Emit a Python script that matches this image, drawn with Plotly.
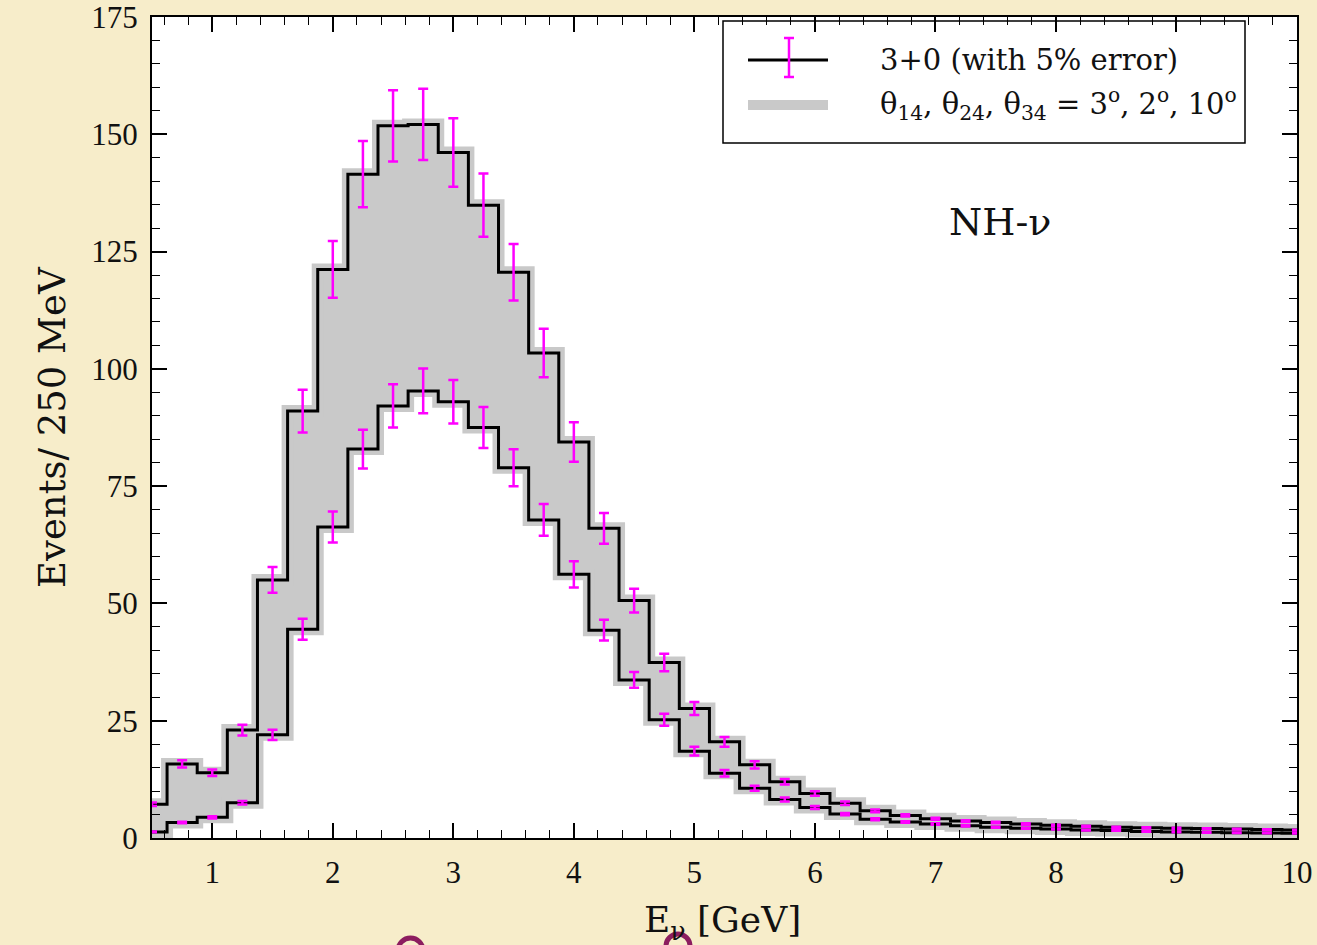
import plotly.graph_objects as go

# ---------------- data ----------------
energy = [0.5, 0.75, 1.0, 1.25, 1.5, 1.75, 2.0, 2.25, 2.5, 2.75, 3.0, 3.25, 3.5, 3.75,
          4.0, 4.25, 4.5, 4.75, 5.0, 5.25, 5.5, 5.75, 6.0, 6.25, 6.5, 6.75, 7.0, 7.25,
          7.5, 7.75, 8.0, 8.25, 8.5, 8.75, 9.0, 9.25, 9.5, 9.75, 10.0]

upper_events = [7.2, 15.8, 13.9, 23.0, 55.0, 91.0, 121.2, 141.5, 151.8, 152.1, 146.1, 134.9,
                120.6, 103.4, 84.4, 66.0, 50.6, 37.4, 27.6, 20.5, 15.6, 12.0, 9.5, 7.4, 5.8,
                4.8, 4.1, 3.6, 3.3, 3.0, 2.7, 2.5, 2.3, 2.2, 2.1, 2.0, 1.9, 1.8, 1.7]

lower_events = [1.3, 3.3, 4.4, 7.5, 22.0, 44.5, 66.3, 82.9, 92.1, 95.3, 93.0, 87.5, 78.9,
                67.8, 56.2, 44.3, 33.7, 25.2, 18.5, 13.8, 10.6, 8.2, 6.5, 5.1, 4.0, 3.4,
                3.0, 2.6, 2.3, 2.1, 1.9, 1.7, 1.6, 1.4, 1.3, 1.2, 1.1, 1.05, 1.0]

error_fraction = 0.05
x_tick_vals = [1, 2, 3, 4, 5, 6, 7, 8, 9, 10]
y_tick_vals = [0, 25, 50, 75, 100, 125, 150, 175]

legend_labels = ["3+0 (with 5% error)",
                 "θ<sub>14</sub>, θ<sub>24</sub>, θ<sub>34</sub> = 3<sup>o</sup>, 2<sup>o</sup>, 10<sup>o</sup>"]
panel_label = "NH-ν"
x_title = "E<sub>ν</sub> [GeV]"
y_title = "Events/ 250 MeV"

# ---------------- styling ----------------
W, H = 1317, 945
L, R, T, B = 152, 20, 17, 107
PAPER = "#f7edca"
GRAY = "#c9c9c9"
MAGENTA = "#ff00ff"
TEXT_FONT = "DejaVu Serif"
NUM_FONT = "Liberation Serif"


def px(x):
    return (x - L) / (W - L - R)


def py(y):
    return (H - B - y) / (H - B - T)


fig = go.Figure()

# gray band (thick gray outlines + fill between)
fig.add_trace(go.Scatter(x=energy, y=lower_events, mode="lines",
                         line=dict(color=GRAY, width=12, shape="hvh"),
                         hoverinfo="skip", showlegend=False))
fig.add_trace(go.Scatter(x=energy, y=upper_events, mode="lines",
                         line=dict(color=GRAY, width=12, shape="hvh"),
                         fill="tonexty", fillcolor=GRAY,
                         hoverinfo="skip", showlegend=False))

# black histogram lines
for series in (lower_events, upper_events):
    fig.add_trace(go.Scatter(x=energy, y=series, mode="lines",
                             line=dict(color="black", width=3, shape="hvh"),
                             showlegend=False))

# magenta 5% error bars
for series in (lower_events, upper_events):
    fig.add_trace(go.Scatter(
        x=energy, y=series, mode="markers",
        marker=dict(size=1, color="rgba(0,0,0,0)"),
        error_y=dict(type="data", array=[error_fraction * v for v in series],
                     color=MAGENTA, thickness=2.5, width=5),
        showlegend=False))

axis_common = dict(
    showline=True, linecolor="black", linewidth=2, mirror="allticks",
    ticks="inside", ticklen=15, tickwidth=1.5, tickcolor="black",
    showgrid=False, zeroline=False, ticklabeloverflow="allow", automargin=False,
    tickfont=dict(family=NUM_FONT, size=31, color="#111111"),
)

fig.update_xaxes(range=[0.5, 10], tickvals=x_tick_vals, ticklabelstandoff=6,
                 minor=dict(tick0=0, dtick=0.2, ticks="inside", ticklen=8,
                            tickwidth=1.2, tickcolor="black", showgrid=False),
                 **axis_common)
fig.update_yaxes(range=[0, 175], tickvals=y_tick_vals, ticklabelstandoff=6,
                 minor=dict(tick0=0, dtick=5, ticks="inside", ticklen=8,
                            tickwidth=1.2, tickcolor="black", showgrid=False),
                 **axis_common)

shapes = [
    # legend box
    dict(type="rect", xref="paper", yref="paper", x0=px(723), x1=px(1245),
         y0=py(143), y1=py(21), line=dict(color="black", width=1.5), layer="above"),
    # legend sample: black line + magenta error bar
    dict(type="line", xref="paper", yref="paper", x0=px(748), x1=px(828),
         y0=py(60), y1=py(60), line=dict(color="black", width=3), layer="above"),
    dict(type="line", xref="paper", yref="paper", x0=px(789), x1=px(789),
         y0=py(38), y1=py(77), line=dict(color=MAGENTA, width=2.5), layer="above"),
    dict(type="line", xref="paper", yref="paper", x0=px(784), x1=px(794),
         y0=py(38), y1=py(38), line=dict(color=MAGENTA, width=2.5), layer="above"),
    dict(type="line", xref="paper", yref="paper", x0=px(784), x1=px(794),
         y0=py(77), y1=py(77), line=dict(color=MAGENTA, width=2.5), layer="above"),
    # legend sample: gray band
    dict(type="line", xref="paper", yref="paper", x0=px(748), x1=px(828),
         y0=py(105), y1=py(105), line=dict(color=GRAY, width=10), layer="above"),
    # slide ornaments at the bottom
    dict(type="circle", xref="paper", yref="paper", x0=px(398), x1=px(423),
         y0=py(963), y1=py(938), line=dict(color="#8c1d5f", width=5), layer="above"),
    dict(type="circle", xref="paper", yref="paper", x0=px(666), x1=px(690),
         y0=py(958), y1=py(934), line=dict(color="#8c1d5f", width=5), layer="above"),
]

annotations = [
    dict(xref="paper", yref="paper", x=px(878), y=py(60), xanchor="left", yanchor="middle",
         text=legend_labels[0], showarrow=False,
         font=dict(family=TEXT_FONT, size=29, color="#111111")),
    dict(xref="paper", yref="paper", x=px(878), y=py(104), xanchor="left", yanchor="middle",
         text=legend_labels[1], showarrow=False,
         font=dict(family=TEXT_FONT, size=29, color="#111111")),
    dict(xref="paper", yref="paper", x=px(1000), y=py(222), xanchor="center", yanchor="middle",
         text=panel_label, showarrow=False,
         font=dict(family=TEXT_FONT, size=38, color="#111111")),
    dict(xref="paper", yref="paper", x=px(722), y=py(922), xanchor="center", yanchor="middle",
         text=x_title, showarrow=False,
         font=dict(family=TEXT_FONT, size=36, color="#111111")),
    dict(xref="paper", yref="paper", x=px(52), y=py(427), xanchor="center", yanchor="middle",
         text=y_title, showarrow=False, textangle=-90,
         font=dict(family=TEXT_FONT, size=37, color="#111111")),
]

fig.update_layout(
    width=W, height=H, autosize=False,
    margin=dict(l=L, r=R, t=T, b=B),
    paper_bgcolor=PAPER, plot_bgcolor="white",
    showlegend=False,
    shapes=shapes, annotations=annotations,
)

fig.write_html(
    "out.html",
    config={"displayModeBar": False},
    post_script="document.body.style.margin='0';document.body.style.overflow='hidden';",
)
